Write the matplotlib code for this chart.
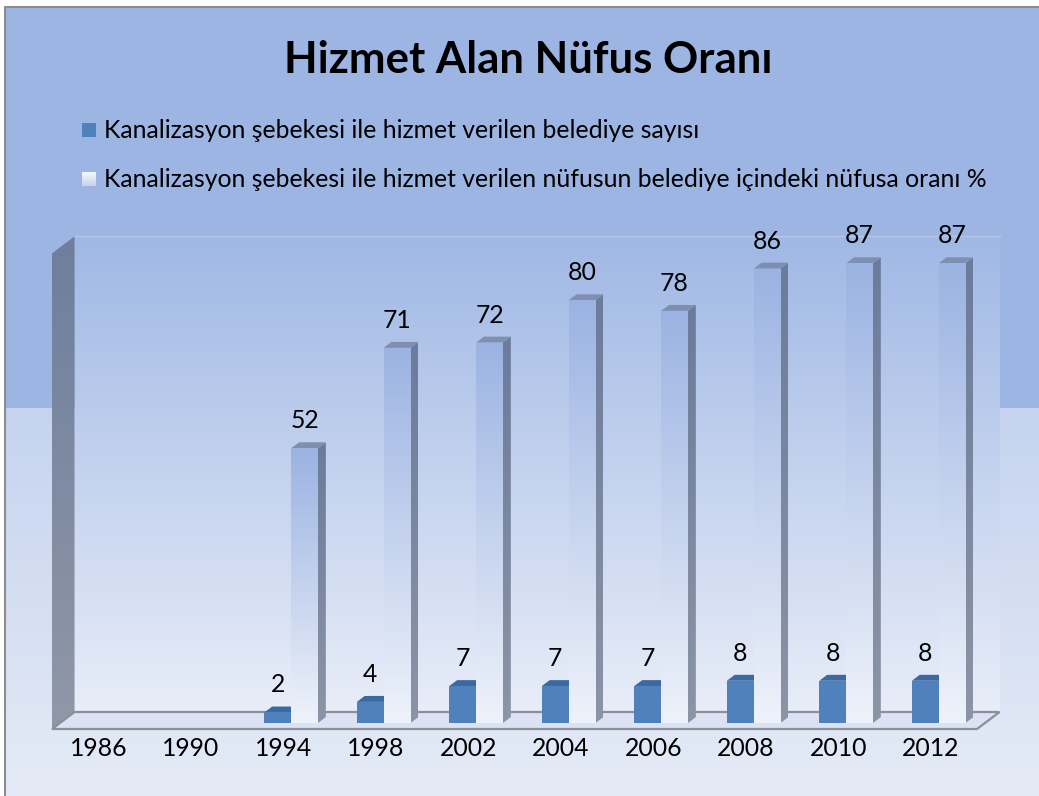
import numpy as np
import matplotlib
matplotlib.use("Agg")
import matplotlib.pyplot as plt
from matplotlib.patches import Polygon, Rectangle
from matplotlib.colors import to_rgb
import matplotlib.transforms as mtransforms

# ---------------- data ----------------
years = ["1986", "1990", "1994", "1998", "2002", "2004", "2006", "2008", "2010", "2012"]
belediye_sayisi = [None, None, 2, 4, 7, 7, 7, 8, 8, 8]
nufus_orani = [None, None, 52, 71, 72, 80, 78, 86, 87, 87]
series_names = [
    "Kanalizasyon şebekesi ile hizmet verilen belediye sayısı",
    "Kanalizasyon şebekesi ile hizmet verilen nüfusun belediye içindeki nüfusa oranı %",
]
title = "Hizmet Alan Nüfus Oranı"
y_max = 90

# ---------------- style ----------------
FONT = "Lato"
FS = 17.8
W, H = 1039, 796
TOP_BG = "#9DB5E3"
BOT_BG_TOP, BOT_BG_BOT = "#C5D3EF", "#E5EBF6"
WALL_TOP, WALL_BOT = "#A0B8E5", "#E8EDF8"
SWALL_TOP, SWALL_BOT = "#6E7E9C", "#9098A8"
FLOOR = "#DAE2F3"
EDGE = "#8A8F99"
LF_TOP, LF_BOT = "#9BB3E2", "#EEF2FA"
LS_TOP, LS_BOT = "#6B7B9B", "#8C95A6"
L_TOPFACE = "#7E8FB1"
D_FRONT, D_TOPFACE, D_SIDE = "#4F81BD", "#3C6AA0", "#2F5A8C"

DX, DY = 22.5, 17.0      # full-depth offset in pixels
D0, D1 = 0.35, 0.70       # bar depth range
BW = 0.29                 # bar width in category units

fig = plt.figure(figsize=(W / 100, H / 100), dpi=100)
pax = fig.add_axes([0, 0, 1, 1], zorder=0)
pax.axis("off")
ax = fig.add_axes([52 / W, 67 / H, 925 / W, 475.6 / H], zorder=1)
ax.set_xlim(0, len(years))
ax.set_ylim(0, y_max)
ax.axis("off")
ax.patch.set_alpha(0)


def P(x, v, d):
    px, py = ax.transData.transform((x, v))
    return (px + DX * d, py + DY * d)


def vgrad(c_top, c_bot, n=256):
    t = np.linspace(0, 1, n)[:, None]
    a = np.array(to_rgb(c_top))
    b = np.array(to_rgb(c_bot))
    return (a * (1 - t) + b * t)[:, None, :]


def grad_fill(poly_pts, c_top, c_bot, z, clip_patch=None):
    pts = np.array(poly_pts)
    x0, x1 = pts[:, 0].min(), pts[:, 0].max()
    y0, y1 = pts[:, 1].min(), pts[:, 1].max()
    im = pax.imshow(vgrad(c_top, c_bot), extent=(x0, x1, y0, y1), origin="upper",
                    aspect="auto", zorder=z, interpolation="bilinear")
    if clip_patch is None:
        clip_patch = Polygon(pts, closed=True, transform=pax.transData,
                             facecolor="none", edgecolor="none")
        pax.add_patch(clip_patch)
    im.set_clip_path(clip_patch)
    return im


# background
bg = np.ones((H, W, 3))
top_rgb = np.array(to_rgb(TOP_BG))
bg[7:408, 5:, :] = top_rgb
t = np.linspace(0, 1, H - 408)[:, None]
low = np.array(to_rgb(BOT_BG_TOP)) * (1 - t) + np.array(to_rgb(BOT_BG_BOT)) * t
bg[408:, 5:, :] = low[:, None, :]
pax.imshow(bg, extent=(0, W, 0, H), origin="upper", aspect="auto", zorder=0)
pax.plot([5, 5, W], [0, H - 7, H - 7], color="#8D8D8D", lw=1.5, zorder=0.5)

n = len(years)
# back wall
back = [P(0, 0, 1), P(n, 0, 1), P(n, y_max, 1), P(0, y_max, 1)]
grad_fill(back, WALL_TOP, WALL_BOT, 1)
pax.plot([back[3][0], back[2][0]], [back[3][1], back[2][1]], color="#B7C7E8", lw=1, zorder=1.1)
# left wall
left = [P(0, 0, 0), P(0, 0, 1), P(0, y_max, 1), P(0, y_max, 0)]
grad_fill(left, SWALL_TOP, SWALL_BOT, 1.2)
# floor
floor = [P(0, 0, 0), P(n, 0, 0), P(n, 0, 1), P(0, 0, 1)]
pax.add_patch(Polygon(floor, closed=True, facecolor=FLOOR, edgecolor=EDGE, lw=1.6, zorder=2))

# bars (front faces through ax.bar with a depth offset)
off0 = ax.transData + mtransforms.Affine2D().translate(DX * D0, DY * D0)
idx = [i for i in range(n) if nufus_orani[i] is not None]
xd = np.array([i + 0.5 - BW / 2 for i in idx])
xl = np.array([i + 0.5 + BW / 2 for i in idx])
hd = [belediye_sayisi[i] for i in idx]
hl = [nufus_orani[i] for i in idx]
dark_bars = ax.bar(xd, hd, width=BW, color=D_FRONT, transform=off0, zorder=3, lw=0)
light_bars = ax.bar(xl, hl, width=BW, facecolor="none", edgecolor="none",
                    transform=off0, zorder=3)

z = 3.0
for k, i in enumerate(idx):
    for xc, v, kind in ((xd[k], hd[k], "d"), (xl[k], hl[k], "l")):
        xa, xb = xc - BW / 2, xc + BW / 2
        side = [P(xb, 0, D0), P(xb, 0, D1), P(xb, v, D1), P(xb, v, D0)]
        top = [P(xa, v, D0), P(xb, v, D0), P(xb, v, D1), P(xa, v, D1)]
        if kind == "d":
            pax.add_patch(Polygon(side, closed=True, facecolor=D_SIDE, lw=0, zorder=z))
            pax.add_patch(Polygon(top, closed=True, facecolor=D_TOPFACE, lw=0, zorder=z + 0.01))
        else:
            grad_fill(side, LS_TOP, LS_BOT, z + 0.02)
            pax.add_patch(Polygon(top, closed=True, facecolor=L_TOPFACE, lw=0, zorder=z + 0.03))
            front = [P(xa, 0, D0), P(xb, 0, D0), P(xb, v, D0), P(xa, v, D0)]
            grad_fill(front, LF_TOP, LF_BOT, z + 0.04, clip_patch=light_bars[k])
        z += 0.1

# data labels
lab_off = ax.transData + mtransforms.Affine2D().translate(DX * D0, DY * D0 + 20)
for k in range(len(idx)):
    ax.text(xd[k], hd[k], str(hd[k]), transform=lab_off, ha="center", va="baseline",
            fontsize=FS, family=FONT, color="black", zorder=6)
    ax.text(xl[k], hl[k], str(hl[k]), transform=lab_off, ha="center", va="baseline",
            fontsize=FS, family=FONT, color="black", zorder=6)

# category labels
for i, yr in enumerate(years):
    px, _ = P(i + 0.5, 0, 0)
    pax.text(px, H - 748, yr, ha="center", va="center", fontsize=FS, family=FONT,
             color="black", zorder=6)

# title
pax.text(528, H - 73, title, ha="center", va="baseline", fontsize=31.5, family=FONT,
         fontweight="bold", color="black", zorder=6)

# legend
pax.add_patch(Rectangle((82, H - 137), 14, 14, facecolor=D_FRONT, lw=0, zorder=6))
grad_fill([(82, H - 186), (96, H - 186), (96, H - 172), (82, H - 172)],
          "#F6F8FC", "#C5D2EE", 6)
pax.text(104, H - 138, series_names[0], ha="left", va="baseline", fontsize=FS,
         family=FONT, color="black", zorder=6)
pax.text(104, H - 187, series_names[1], ha="left", va="baseline", fontsize=FS,
         family=FONT, color="black", zorder=6)

pax.set_xlim(0, W)
pax.set_ylim(0, H)
ax.set_xlim(0, n)
ax.set_ylim(0, y_max)

fig.savefig("out.png", dpi=100)
